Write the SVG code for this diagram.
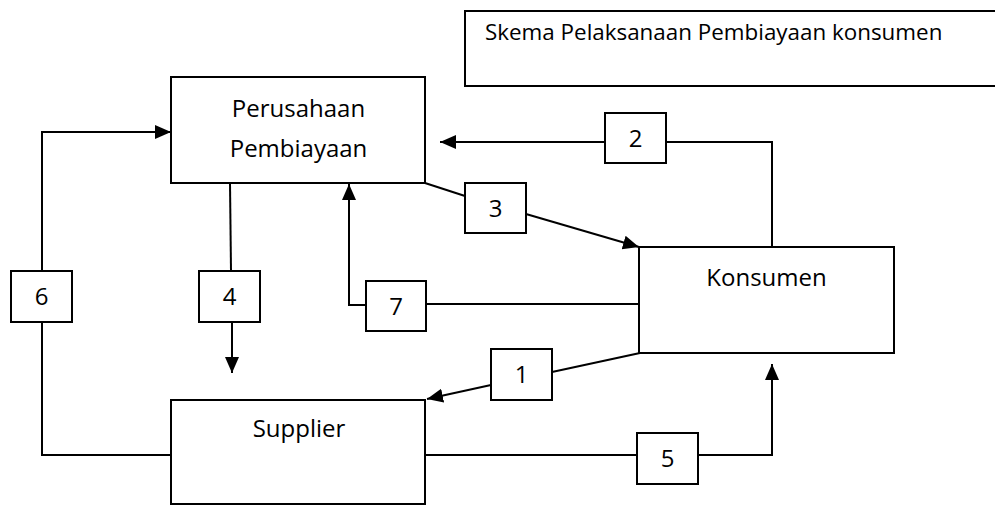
<svg xmlns="http://www.w3.org/2000/svg" width="995" height="505" viewBox="0 0 995 505">
<style>
.box{fill:#fff;stroke:#000;stroke-width:2}
.ln{fill:none;stroke:#000;stroke-width:2}
.arr{marker-end:url(#ah)}
.t{font-family:"Open Sans","Noto Sans","Liberation Sans",sans-serif;fill:#000}
.big{font-size:24px;text-anchor:middle}
.num{font-size:24px;text-anchor:middle}
</style>
<defs>
<marker id="ah" markerUnits="userSpaceOnUse" markerWidth="18" markerHeight="16" refX="16" refY="7" orient="auto">
<path d="M0,0 L16,7 L0,14 Z" fill="#000"/>
</marker>
</defs>
<g id="title">
<rect class="box" x="465" y="11" width="540" height="75"/>
<text class="t" x="485" y="40" font-size="22.4">Skema Pelaksanaan Pembiayaan konsumen</text>
</g>
<g id="connectors">
<polyline class="ln arr" points="42,271 42,132 171,132"/>
<polyline class="ln" points="42,322 42,455 171,455"/>
<line class="ln" x1="230" y1="183" x2="231" y2="271"/>
<line class="ln arr" x1="232" y1="322" x2="232" y2="373"/>
<polyline class="ln" points="639,304 426,304"/>
<polyline class="ln arr" points="366,305 349,305 349,184"/>
<line class="ln" x1="425" y1="183" x2="465" y2="196"/>
<line class="ln arr" x1="526" y1="214" x2="639" y2="247"/>
<polyline class="ln" points="772,247 772,142 666,142"/>
<line class="ln arr" x1="605" y1="142" x2="440" y2="142"/>
<line class="ln" x1="640" y1="353" x2="552" y2="372"/>
<line class="ln arr" x1="491" y1="385" x2="427" y2="399"/>
<line class="ln" x1="425" y1="455" x2="637" y2="455"/>
<polyline class="ln arr" points="698,455 772,455 772,364"/>
</g>
<g id="perusahaan">
<rect class="box" x="171" y="77" width="254" height="106"/>
<text class="t big" x="298.5" y="117">Perusahaan</text>
<text class="t big" x="298.5" y="157">Pembiayaan</text>
</g>
<g id="konsumen">
<rect class="box" x="639" y="247" width="255" height="106"/>
<text class="t big" x="766.5" y="286">Konsumen</text>
</g>
<g id="supplier">
<rect class="box" x="171" y="400" width="254" height="104"/>
<text class="t big" x="299" y="437">Supplier</text>
</g>
<g id="label6"><rect class="box" x="11" y="271" width="61" height="51"/><text class="t num" x="41.5" y="305">6</text></g>
<g id="label4"><rect class="box" x="199" y="271" width="61" height="51"/><text class="t num" x="229.5" y="305">4</text></g>
<g id="label7"><rect class="box" x="366" y="281" width="60" height="50"/><text class="t num" x="396" y="315">7</text></g>
<g id="label3"><rect class="box" x="465" y="183" width="61" height="50"/><text class="t num" x="495.5" y="217">3</text></g>
<g id="label2"><rect class="box" x="605" y="113" width="61" height="50"/><text class="t num" x="635.5" y="147">2</text></g>
<g id="label1"><rect class="box" x="491" y="349" width="61" height="51"/><text class="t num" x="521.5" y="383">1</text></g>
<g id="label5"><rect class="box" x="637" y="433" width="61" height="51"/><text class="t num" x="667.5" y="467">5</text></g>
</svg>
